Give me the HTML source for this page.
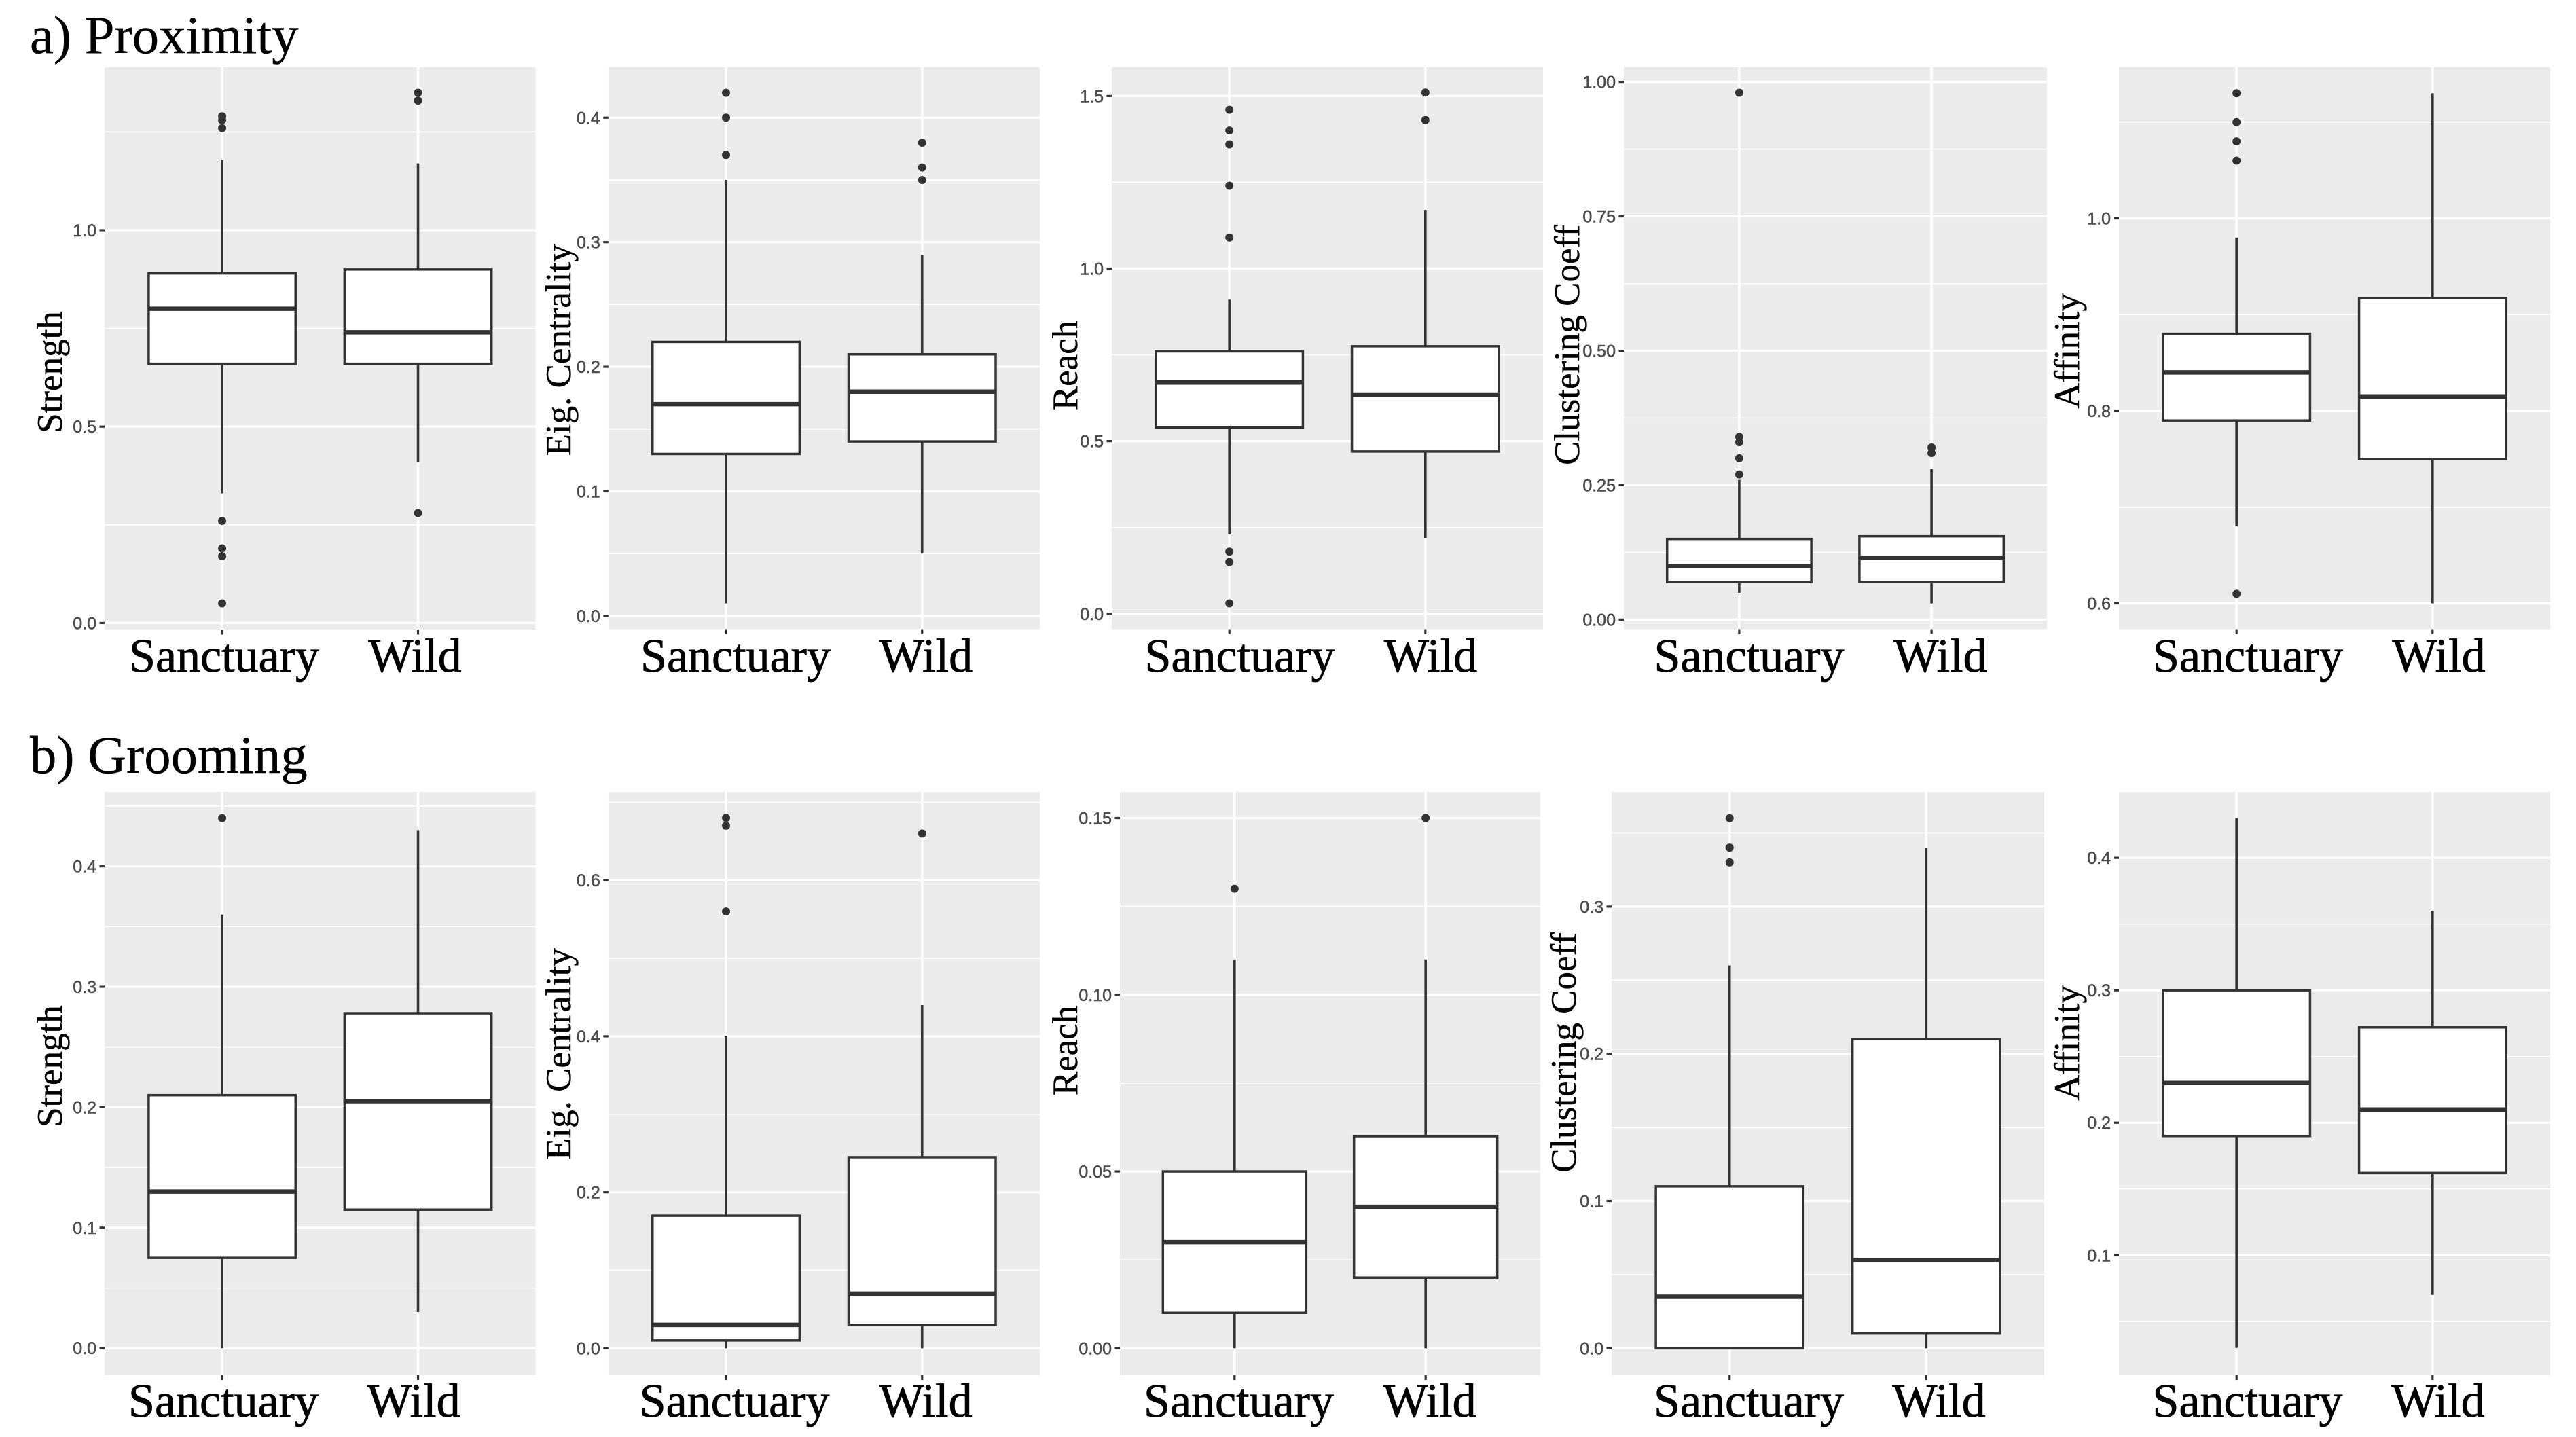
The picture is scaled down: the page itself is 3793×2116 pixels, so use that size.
<!DOCTYPE html>
<html lang="en">
<head>
<meta charset="utf-8">
<title>Proximity and Grooming Boxplots</title>
<style>
html,body{margin:0;padding:0;background:#fff;width:3793px;height:2116px;overflow:hidden}
svg{display:block}
.section{font-family:"Liberation Serif",serif;font-size:78.7px;fill:#000;stroke:#000;stroke-width:.4px}
.ytitle{font-family:"Liberation Serif",serif;font-size:53px;fill:#000;text-anchor:middle;stroke:#000;stroke-width:.4px}
.xlabel{font-family:"Liberation Serif",serif;font-size:70px;fill:#000;text-anchor:middle;stroke:#000;stroke-width:.8px}
.ticklabel{font-family:"Liberation Sans",sans-serif;font-size:25px;fill:#4d4d4d;text-anchor:end;stroke:#4d4d4d;stroke-width:.6px}
</style>
</head>
<body>
<svg id="figure" xmlns="http://www.w3.org/2000/svg" width="3793" height="2116" viewBox="0 0 3793 2116">
  <text class="section" x="44" y="78">a) Proximity</text>
  <text class="section" x="44" y="1138">b) Grooming</text>

  <g id="prox-strength">
    <rect class="plot" x="154" y="99" width="634.6" height="828" fill="#ebebeb"/>
    <text class="ytitle" transform="translate(91,548) rotate(-90)">Strength</text>
    <text class="xlabel" x="330" y="989">Sanctuary</text>
    <text class="xlabel" x="611" y="989">Wild</text>
  </g>
  <g id="prox-eig">
    <rect class="plot" x="895.8" y="99" width="635.2" height="827.5" fill="#ebebeb"/>
    <text class="ytitle" transform="translate(840,515.5) rotate(-90)">Eig. Centrality</text>
    <text class="xlabel" x="1083" y="989">Sanctuary</text>
    <text class="xlabel" x="1363.5" y="989">Wild</text>
  </g>
  <g id="prox-reach">
    <rect class="plot" x="1637" y="99" width="635" height="827.5" fill="#ebebeb"/>
    <text class="ytitle" transform="translate(1586,538) rotate(-90)">Reach</text>
    <text class="xlabel" x="1825.5" y="989">Sanctuary</text>
    <text class="xlabel" x="2106.5" y="989">Wild</text>
  </g>
  <g id="prox-clust">
    <rect class="plot" x="2391" y="99" width="623" height="827.5" fill="#ebebeb"/>
    <text class="ytitle" transform="translate(2325,508) rotate(-90)">Clustering Coeff</text>
    <text class="xlabel" x="2575.5" y="989">Sanctuary</text>
    <text class="xlabel" x="2857" y="989">Wild</text>
  </g>
  <g id="prox-aff">
    <rect class="plot" x="3120" y="99" width="635" height="827.5" fill="#ebebeb"/>
    <text class="ytitle" transform="translate(3061,517) rotate(-90)">Affinity</text>
    <text class="xlabel" x="3310" y="989">Sanctuary</text>
    <text class="xlabel" x="3591" y="989">Wild</text>
  </g>

  <g id="groom-strength">
    <rect class="plot" x="154" y="1166" width="634.6" height="858.6" fill="#ebebeb"/>
    <text class="ytitle" transform="translate(91,1570) rotate(-90)">Strength</text>
    <text class="xlabel" x="329" y="2086">Sanctuary</text>
    <text class="xlabel" x="609" y="2086">Wild</text>
  </g>
  <g id="groom-eig">
    <rect class="plot" x="895.8" y="1166" width="635.2" height="858.6" fill="#ebebeb"/>
    <text class="ytitle" transform="translate(840,1552) rotate(-90)">Eig. Centrality</text>
    <text class="xlabel" x="1081.6" y="2086">Sanctuary</text>
    <text class="xlabel" x="1363" y="2086">Wild</text>
  </g>
  <g id="groom-reach">
    <rect class="plot" x="1649" y="1166" width="619" height="858.6" fill="#ebebeb"/>
    <text class="ytitle" transform="translate(1586,1547) rotate(-90)">Reach</text>
    <text class="xlabel" x="1824" y="2086">Sanctuary</text>
    <text class="xlabel" x="2105" y="2086">Wild</text>
  </g>
  <g id="groom-clust">
    <rect class="plot" x="2373" y="1166" width="637" height="858.6" fill="#ebebeb"/>
    <text class="ytitle" transform="translate(2320,1550) rotate(-90)">Clustering Coeff</text>
    <text class="xlabel" x="2575" y="2086">Sanctuary</text>
    <text class="xlabel" x="2855" y="2086">Wild</text>
  </g>
  <g id="groom-aff">
    <rect class="plot" x="3120" y="1166" width="635" height="858.6" fill="#ebebeb"/>
    <text class="ytitle" transform="translate(3061,1536) rotate(-90)">Affinity</text>
    <text class="xlabel" x="3309.5" y="2086">Sanctuary</text>
    <text class="xlabel" x="3590" y="2086">Wild</text>
  </g>
</svg>

<script>
// Box stats order: lower whisker, Q1, median, Q3, upper whisker.
const categories = ['Sanctuary', 'Wild'];

const proxStrengthTicks = ['0.0', '0.5', '1.0'];
const proxStrengthDomain = [-0.0166, 1.4149];
const proxStrengthSanctuary = [0.33, 0.66, 0.80, 0.89, 1.18];
const proxStrengthWild = [0.41, 0.66, 0.74, 0.90, 1.17];
const proxStrengthSanctuaryOutliers = [1.29, 1.28, 1.26, 0.26, 0.19, 0.17, 0.05];
const proxStrengthWildOutliers = [1.35, 1.33, 0.28];

const proxEigTicks = ['0.0', '0.1', '0.2', '0.3', '0.4'];
const proxEigDomain = [-0.0107, 0.4405];
const proxEigSanctuary = [0.01, 0.13, 0.17, 0.22, 0.35];
const proxEigWild = [0.05, 0.14, 0.18, 0.21, 0.29];
const proxEigSanctuaryOutliers = [0.42, 0.40, 0.37];
const proxEigWildOutliers = [0.38, 0.36, 0.35];

const proxReachTicks = ['0.0', '0.5', '1.0', '1.5'];
const proxReachDomain = [-0.0447, 1.5833];
const proxReachSanctuary = [0.23, 0.54, 0.67, 0.76, 0.91];
const proxReachWild = [0.22, 0.47, 0.635, 0.775, 1.17];
const proxReachSanctuaryOutliers = [1.46, 1.40, 1.36, 1.24, 1.09, 0.18, 0.15, 0.03];
const proxReachWildOutliers = [1.51, 1.43];

const proxClustTicks = ['0.00', '0.25', '0.50', '0.75', '1.00'];
const proxClustDomain = [-0.0178, 1.0273];
const proxClustSanctuary = [0.05, 0.07, 0.10, 0.15, 0.26];
const proxClustWild = [0.03, 0.07, 0.115, 0.155, 0.28];
const proxClustSanctuaryOutliers = [0.98, 0.34, 0.33, 0.30, 0.27];
const proxClustWildOutliers = [0.32, 0.31];

const proxAffTicks = ['0.6', '0.8', '1.0'];
const proxAffDomain = [0.5732, 1.157];
const proxAffSanctuary = [0.68, 0.79, 0.84, 0.88, 0.98];
const proxAffWild = [0.60, 0.75, 0.815, 0.917, 1.13];
const proxAffSanctuaryOutliers = [1.13, 1.10, 1.08, 1.06, 0.61];
const proxAffWildOutliers = [];

const groomStrengthTicks = ['0.0', '0.1', '0.2', '0.3', '0.4'];
const groomStrengthDomain = [-0.0222, 0.4618];
const groomStrengthSanctuary = [0, 0.075, 0.13, 0.21, 0.36];
const groomStrengthWild = [0.03, 0.115, 0.205, 0.278, 0.43];
const groomStrengthSanctuaryOutliers = [0.44];
const groomStrengthWildOutliers = [];

const groomEigTicks = ['0.0', '0.2', '0.4', '0.6'];
const groomEigDomain = [-0.0342, 0.7134];
const groomEigSanctuary = [0, 0.01, 0.03, 0.17, 0.40];
const groomEigWild = [0, 0.03, 0.07, 0.245, 0.44];
const groomEigSanctuaryOutliers = [0.68, 0.67, 0.56];
const groomEigWildOutliers = [0.66];

const groomReachTicks = ['0.00', '0.05', '0.10', '0.15'];
const groomReachDomain = [-0.00755, 0.1574];
const groomReachSanctuary = [0, 0.01, 0.03, 0.05, 0.11];
const groomReachWild = [0, 0.02, 0.04, 0.06, 0.11];
const groomReachSanctuaryOutliers = [0.13];
const groomReachWildOutliers = [0.15];

const groomClustTicks = ['0.0', '0.1', '0.2', '0.3'];
const groomClustDomain = [-0.0181, 0.3779];
const groomClustSanctuary = [0, 0, 0.035, 0.11, 0.26];
const groomClustWild = [0, 0.01, 0.06, 0.21, 0.34];
const groomClustSanctuaryOutliers = [0.36, 0.34, 0.33];
const groomClustWildOutliers = [];

const groomAffTicks = ['0.1', '0.2', '0.3', '0.4'];
const groomAffDomain = [0.0096, 0.4498];
const groomAffSanctuary = [0.03, 0.19, 0.23, 0.30, 0.43];
const groomAffWild = [0.07, 0.162, 0.21, 0.272, 0.36];
const groomAffSanctuaryOutliers = [];
const groomAffWildOutliers = [];

const panelIds = ['prox-strength', 'prox-eig', 'prox-reach', 'prox-clust', 'prox-aff', 'groom-strength', 'groom-eig', 'groom-reach', 'groom-clust', 'groom-aff'];
const panelTicks = [proxStrengthTicks, proxEigTicks, proxReachTicks, proxClustTicks, proxAffTicks, groomStrengthTicks, groomEigTicks, groomReachTicks, groomClustTicks, groomAffTicks];
const panelDomains = [proxStrengthDomain, proxEigDomain, proxReachDomain, proxClustDomain, proxAffDomain, groomStrengthDomain, groomEigDomain, groomReachDomain, groomClustDomain, groomAffDomain];
const panelBoxes = [
  [proxStrengthSanctuary, proxStrengthWild], [proxEigSanctuary, proxEigWild], [proxReachSanctuary, proxReachWild], [proxClustSanctuary, proxClustWild], [proxAffSanctuary, proxAffWild],
  [groomStrengthSanctuary, groomStrengthWild], [groomEigSanctuary, groomEigWild], [groomReachSanctuary, groomReachWild], [groomClustSanctuary, groomClustWild], [groomAffSanctuary, groomAffWild]
];
const panelOutliers = [
  [proxStrengthSanctuaryOutliers, proxStrengthWildOutliers], [proxEigSanctuaryOutliers, proxEigWildOutliers], [proxReachSanctuaryOutliers, proxReachWildOutliers], [proxClustSanctuaryOutliers, proxClustWildOutliers], [proxAffSanctuaryOutliers, proxAffWildOutliers],
  [groomStrengthSanctuaryOutliers, groomStrengthWildOutliers], [groomEigSanctuaryOutliers, groomEigWildOutliers], [groomReachSanctuaryOutliers, groomReachWildOutliers], [groomClustSanctuaryOutliers, groomClustWildOutliers], [groomAffSanctuaryOutliers, groomAffWildOutliers]
];

const SVG_NS = 'http://www.w3.org/2000/svg';
const INK = '#333333';

function make(tag, attrs) {
  const el = document.createElementNS(SVG_NS, tag);
  for (const key in attrs) el.setAttribute(key, attrs[key]);
  return el;
}

function drawPanel(index) {
  const group = document.getElementById(panelIds[index]);
  const plot = group.querySelector('.plot');
  const left = parseFloat(plot.getAttribute('x'));
  const top = parseFloat(plot.getAttribute('y'));
  const width = parseFloat(plot.getAttribute('width'));
  const height = parseFloat(plot.getAttribute('height'));
  const right = left + width;
  const bottom = top + height;
  const domain = panelDomains[index];
  const tickLabels = panelTicks[index];
  const tickValues = tickLabels.map(Number);

  // Axis functions: discrete x (ggplot 0.6 expansion), linear y.
  const xBand = width / (categories.length - 1 + 1.2);
  const xScale = function (i) { return left + (0.6 + i) * xBand; };
  const yScale = function (v) { return bottom - (v - domain[0]) / (domain[1] - domain[0]) * height; };

  // Minor gridlines sit halfway between major ticks.
  const step = tickValues[1] - tickValues[0];
  for (let m = tickValues[0] - step / 2; m < domain[1]; m += step) {
    if (m <= domain[0] || tickValues.some(function (t) { return Math.abs(t - m) < step / 4; })) continue;
    const minor = make('line', { x1: left, x2: right, y1: yScale(m), y2: yScale(m), stroke: '#ffffff', 'stroke-width': 1.6 });
    
    
    group.appendChild(minor);
  }

  tickValues.forEach(function (v, t) {
    const y = yScale(v);
    const grid = make('line', { x1: left, x2: right, y1: y, y2: y, stroke: '#ffffff', 'stroke-width': 3.2 });
    
    
    group.appendChild(grid);

    const tick = make('line', { x1: left - 7.5, x2: left, y1: y, y2: y, stroke: INK, 'stroke-width': 3.2 });
    
    
    group.appendChild(tick);

    const label = make('text', { class: 'ticklabel', x: left - 12, y: y + 9 });
    
    
    label.textContent = tickLabels[t];
    group.appendChild(label);
  });

  categories.forEach(function (category, i) {
    const cx = xScale(i);
    const slug = category.toLowerCase();
    const boxHalf = xBand * 0.375;
    const stats = panelBoxes[index][i];

    const vGrid = make('line', { x1: cx, x2: cx, y1: top, y2: bottom, stroke: '#ffffff', 'stroke-width': 3.6 });
    
    
    group.appendChild(vGrid);

    const xTick = make('line', { x1: cx, x2: cx, y1: bottom, y2: bottom + 7.5, stroke: INK, 'stroke-width': 3.2 });
    
    
    group.appendChild(xTick);

    const whisker = make('line', { x1: cx, x2: cx, y1: yScale(stats[0]), y2: yScale(stats[4]), stroke: INK, 'stroke-width': 3.6 });
    
    
    group.appendChild(whisker);

    const box = make('rect', { x: cx - boxHalf, y: yScale(stats[3]), width: boxHalf * 2, height: yScale(stats[1]) - yScale(stats[3]), fill: '#ffffff', stroke: INK, 'stroke-width': 3.5 });
    
    
    group.appendChild(box);

    const median = make('line', { x1: cx - boxHalf, x2: cx + boxHalf, y1: yScale(stats[2]), y2: yScale(stats[2]), stroke: INK, 'stroke-width': 6.5 });
    
    
    group.appendChild(median);

    panelOutliers[index][i].forEach(function (v) {
      const dot = make('circle', { cx: cx, cy: yScale(v), r: 6, fill: INK });
      
      
      group.appendChild(dot);
    });
  });

  // Keep the axis title and category labels above the plot marks.
  group.querySelectorAll('.ytitle, .xlabel').forEach(function (node) { group.appendChild(node); });
}

panelIds.forEach(function (id, index) { drawPanel(index); });
</script>
</body>
</html>
